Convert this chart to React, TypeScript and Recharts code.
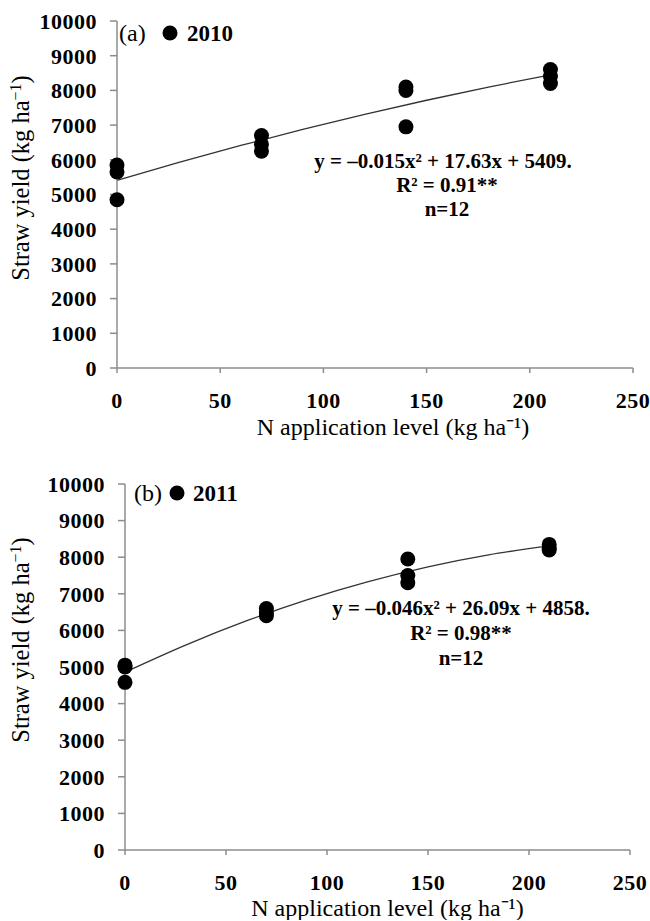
import { ComposedChart, Line, Scatter, XAxis, YAxis } from 'recharts';

const serif = "'Liberation Serif', 'Times New Roman', serif";

const nLevels = [0, 70, 140, 210];
// three replicates per N level
const yield2010 = [
  [5850, 5650, 4850],
  [6700, 6450, 6250],
  [8100, 8000, 6950],
  [8600, 8400, 8200],
];
const yield2011 = [
  [5050, 5000, 4580],
  [6600, 6480, 6400],
  [7950, 7500, 7300],
  [8350, 8250, 8200],
];

// fitted curve
const trendN = [0, 30, 60, 90, 120, 150, 180, 210];
const trend2010 = [5409, 5924, 6413, 6874, 7309, 7716, 8096, 8450];
const trend2011 = [4858, 5599, 6258, 6834, 7326, 7737, 8064, 8308];

const xTicks = [0, 50, 100, 150, 200, 250];
const yTicks = [0, 1000, 2000, 3000, 4000, 5000, 6000, 7000, 8000, 9000, 10000];

const toPoints = (groups: number[][]) =>
  groups.flatMap((reps, i) => reps.map((y) => ({ x: nLevels[i], y })));
const toTrend = (vals: number[]) => vals.map((y, i) => ({ x: trendN[i], y }));

const Dot = (props: { cx?: number; cy?: number }) => (
  <circle cx={props.cx} cy={props.cy} r={7.5} fill="#000" />
);

interface PanelProps {
  points: { x: number; y: number }[];
  trend: { x: number; y: number }[];
  top: number;
  height: number;
  marginTop: number;
  axisWidth: number;
  marginRight: number;
  xAxisHeight: number;
  titleOffset: number;
  titleDx: number;
}

function Panel(p: PanelProps) {
  const tickStyle = {
    fill: '#000',
    fontSize: 22,
    fontWeight: 'bold',
    fontFamily: serif,
    letterSpacing: 0.5,
  };
  return (
    <div style={{ position: 'absolute', left: 0, top: p.top }}>
      <ComposedChart
        width={650}
        height={p.height}
        margin={{ top: p.marginTop, right: p.marginRight, left: 0, bottom: 0 }}
      >
        <XAxis
          type="number"
          dataKey="x"
          domain={[0, 250]}
          ticks={xTicks}
          interval={0}
          tick={tickStyle}
          tickSize={5}
          tickMargin={19}
          stroke="#8c8c8c"
          strokeWidth={1.5}
          height={p.xAxisHeight}
          label={{
            value: 'N application level (kg ha\u207B\u00B9)',
            position: 'insideBottom',
            offset: p.titleOffset,
            dx: p.titleDx,
            fill: '#000',
            fontSize: 24,
            fontFamily: serif,
          }}
        />
        <YAxis
          type="number"
          dataKey="y"
          domain={[0, 10000]}
          ticks={yTicks}
          interval={0}
          tick={tickStyle}
          tickSize={7}
          tickMargin={13}
          stroke="#8c8c8c"
          strokeWidth={1.5}
          width={p.axisWidth}
        />
        <Line
          data={p.trend}
          dataKey="y"
          type="monotone"
          stroke="#333"
          strokeWidth={1.3}
          dot={false}
          activeDot={false}
          isAnimationActive={false}
        />
        <Scatter data={p.points} dataKey="y" fill="#000" shape={<Dot />} isAnimationActive={false} />
      </ComposedChart>
    </div>
  );
}

function YTitle({ cx, cy }: { cx: number; cy: number }) {
  return (
    <text
      x={cx}
      y={cy}
      transform={`rotate(-90 ${cx} ${cy})`}
      textAnchor="middle"
      fontSize={24.5}
      fontFamily={serif}
      fill="#000"
    >
      Straw yield (kg ha<tspan dy={-8} fontSize={16}>−1</tspan>
      <tspan dy={8}>)</tspan>
    </text>
  );
}

function Notes() {
  const eq = { fontSize: 21, fontWeight: 'bold' as const, fontFamily: serif, textAnchor: 'middle' as const };
  return (
    <svg width={650} height={921} style={{ position: 'absolute', left: 0, top: 0, pointerEvents: 'none' }}>
      <YTitle cx={29} cy={178} />
      <YTitle cx={29} cy={640} />

      <text x={119} y={41} fontSize={24} fontFamily={serif}>(a)</text>
      <circle cx={170} cy={33} r={7.5} fill="#000" />
      <text x={187} y={41} fontSize={23} fontWeight="bold" fontFamily={serif}>2010</text>

      <text x={134} y={501} fontSize={24} fontFamily={serif}>(b)</text>
      <circle cx={177} cy={493} r={7.5} fill="#000" />
      <text x={193} y={501} fontSize={23} fontWeight="bold" fontFamily={serif}>2011</text>

      <text x={443} y={168} {...eq}>y = –0.015x² + 17.63x + 5409.</text>
      <text x={447} y={192} {...eq}>R² = 0.91**</text>
      <text x={447} y={216} {...eq}>n=12</text>

      <text x={461} y={615} {...eq}>y = –0.046x² + 26.09x + 4858.</text>
      <text x={461} y={640} {...eq}>R² = 0.98**</text>
      <text x={461} y={665} {...eq}>n=12</text>
    </svg>
  );
}

export default function App() {
  return (
    <div style={{ position: 'absolute', left: 0, top: 0, width: 650, height: 921, background: '#fff' }}>
      <Panel
        points={toPoints(yield2010)}
        trend={toTrend(trend2010)}
        top={0}
        height={440}
        marginTop={21}
        axisWidth={117}
        marginRight={17}
        xAxisHeight={72}
        titleOffset={5}
        titleDx={18}
      />
      <Panel
        points={toPoints(yield2011)}
        trend={toTrend(trend2011)}
        top={460}
        height={460}
        marginTop={24}
        axisWidth={125}
        marginRight={20}
        xAxisHeight={70}
        titleOffset={4}
        titleDx={10}
      />
      <Notes />
    </div>
  );
}
